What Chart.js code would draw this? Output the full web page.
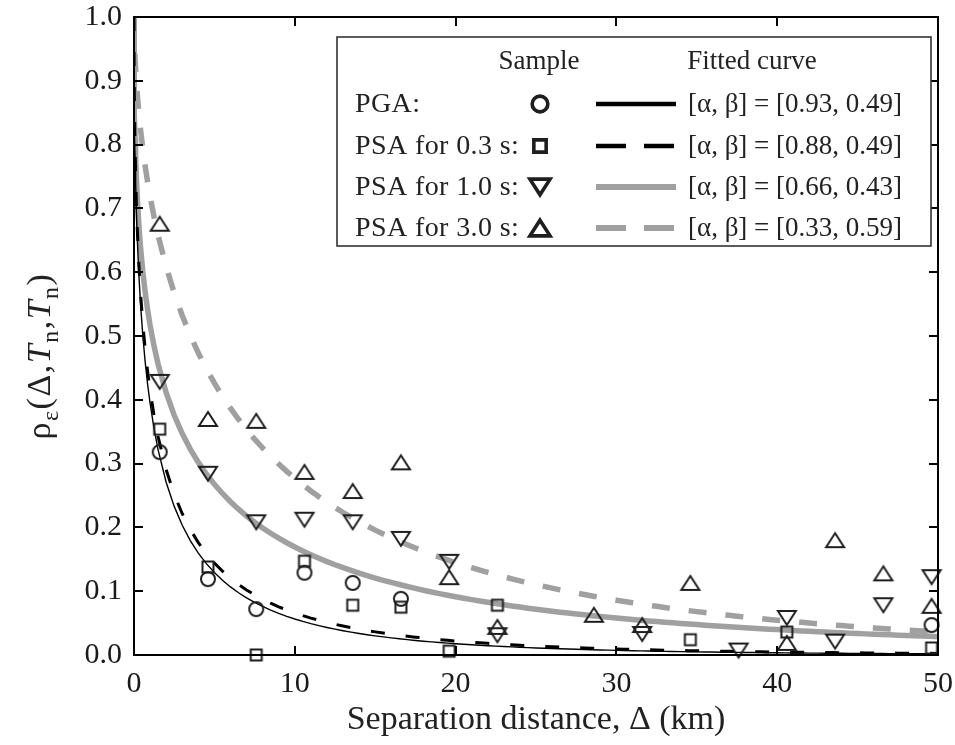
<!DOCTYPE html>
<html>
<head>
<meta charset="utf-8">
<script src="https://cdn.jsdelivr.net/npm/chart.js@4.4.1/dist/chart.umd.min.js"></script>
<style>
  html, body { margin: 0; padding: 0; background: #fff; }
  #wrap { position: relative; width: 955px; height: 745px; }
</style>
</head>
<body>
<div id="wrap"><canvas id="c" width="955" height="745"></canvas></div>
<script>
const SERIF = '"Liberation Serif", "Times New Roman", serif';

// Sample correlation estimates, by separation distance (km)
const pgaDist   = [1.6, 4.6, 7.6, 10.6, 13.6, 16.6, 49.6];
const pgaRho    = [0.318, 0.119, 0.072, 0.129, 0.113, 0.088, 0.047];

const psa03Dist = [1.6, 4.6, 7.6, 10.6, 13.6, 16.6, 19.6, 22.6, 34.6, 40.6, 49.6];
const psa03Rho  = [0.354, 0.138, 0.0, 0.147, 0.078, 0.075, 0.006, 0.078, 0.024, 0.036, 0.011];

const psa10Dist = [1.6, 4.6, 7.6, 10.6, 13.6, 16.6, 19.6, 22.6, 31.6, 37.6, 40.6, 43.6, 46.6, 49.6];
const psa10Rho  = [0.428, 0.284, 0.208, 0.212, 0.208, 0.182, 0.146, 0.031, 0.033, 0.007, 0.058, 0.021, 0.078, 0.122];

const psa30Dist = [1.6, 4.6, 7.6, 10.6, 13.6, 16.6, 19.6, 22.6, 28.6, 31.6, 34.6, 40.6, 43.6, 46.6, 49.6];
const psa30Rho  = [0.676, 0.370, 0.367, 0.287, 0.257, 0.302, 0.122, 0.044, 0.063, 0.047, 0.113, 0.019, 0.180, 0.128, 0.077];

// Fitted model rho(d) = exp(-alpha * d^beta)
const seriesLabels = ['PGA:', 'PSA for 0.3 s:', 'PSA for 1.0 s:', 'PSA for 3.0 s:'];
const fitAlpha = [0.93, 0.88, 0.66, 0.33];
const fitBeta  = [0.49, 0.49, 0.43, 0.59];

// Axis ranges and tick steps
const xRange = [0, 50], xStep = 10;
const yRange = [0, 1], yStep = 0.1;

// Evaluation grid for the fitted curves (dense near zero where they are steep)
const curveGrid = [0, 0.002, 0.005, 0.01, 0.02, 0.04, 0.07, 0.1, 0.15, 0.2, 0.3, 0.4, 0.55, 0.7, 0.85, 1, 1.25];
for (let d = 1.5; d <= 50.0001; d += 0.5) curveGrid.push(+d.toFixed(2));

function fittedCurve(i) {
  return curveGrid.map(d => ({ x: d, y: Math.exp(-fitAlpha[i] * Math.pow(d, fitBeta[i])) }));
}
function points(xs, ys) { return xs.map((x, i) => ({ x, y: ys[i] })); }

// Hollow marker glyphs
const MARK = '#1e1e1e';
function drawMarker(g, kind, cx, cy, k, lw) {
  g.save();
  g.lineWidth = lw; g.strokeStyle = MARK; g.lineJoin = 'miter';
  g.beginPath();
  if (kind === 'circle') {
    g.arc(cx, cy, 7 * k, 0, Math.PI * 2);
  } else if (kind === 'square') {
    g.rect(cx - 5.5 * k, cy - 5.5 * k, 11 * k, 11 * k);
  } else if (kind === 'up') {
    g.moveTo(cx, cy - 7 * k); g.lineTo(cx + 9 * k, cy + 7 * k); g.lineTo(cx - 9 * k, cy + 7 * k); g.closePath();
  } else {
    g.moveTo(cx, cy + 7 * k); g.lineTo(cx + 9 * k, cy - 7 * k); g.lineTo(cx - 9 * k, cy - 7 * k); g.closePath();
  }
  g.stroke();
  g.restore();
}
function markerCanvas(kind) {
  const cv = document.createElement('canvas');
  cv.width = 30; cv.height = 30;
  drawMarker(cv.getContext('2d'), kind, 15, 15, 1, 2);
  return cv;
}
const markerKinds = ['circle', 'square', 'down', 'up'];

// Curve styles
const GRAY = '#a0a0a0';
const curveStyle = [
  { color: '#000', width: 1.4, dash: [] },
  { color: '#000', width: 3, dash: [14, 21] },
  { color: GRAY, width: 5.5, dash: [] },
  { color: GRAY, width: 5.5, dash: [18, 19] }
];

const sampleSets = [[pgaDist, pgaRho], [psa03Dist, psa03Rho], [psa10Dist, psa10Rho], [psa30Dist, psa30Rho]];

const datasets = [];
sampleSets.forEach(([xs, ys], i) => {
  datasets.push({
    type: 'scatter',
    label: seriesLabels[i] + ' sample',
    data: points(xs, ys),
    pointStyle: markerCanvas(markerKinds[i]),
    pointRadius: 8,
    showLine: false,
    clip: false
  });
});
fitAlpha.forEach((a, i) => {
  datasets.push({
    type: 'line',
    label: seriesLabels[i] + ' fit',
    data: fittedCurve(i),
    borderColor: curveStyle[i].color,
    borderWidth: curveStyle[i].width,
    borderDash: curveStyle[i].dash,
    pointRadius: 0,
    tension: 0,
    fill: false
  });
});

// Frame, inward ticks, y-axis title and the two-column key
const decorPlugin = {
  id: 'decor',
  afterDraw(chart) {
    const { ctx, chartArea: a, scales: { x, y } } = chart;
    ctx.save();

    // frame + inward ticks
    ctx.strokeStyle = '#000';
    ctx.lineWidth = 2;
    ctx.strokeRect(a.left, a.top, a.right - a.left, a.bottom - a.top);
    const TL = 9;
    ctx.beginPath();
    x.ticks.forEach(t => {
      const px = Math.round(x.getPixelForValue(t.value));
      ctx.moveTo(px, a.bottom); ctx.lineTo(px, a.bottom - TL);
      ctx.moveTo(px, a.top); ctx.lineTo(px, a.top + TL);
    });
    y.ticks.forEach(t => {
      const py = Math.round(y.getPixelForValue(t.value));
      ctx.moveTo(a.left, py); ctx.lineTo(a.left + TL, py);
      ctx.moveTo(a.right, py); ctx.lineTo(a.right - TL, py);
    });
    ctx.stroke();

    // y-axis title: rho_eps(Delta, T_n, T_n)
    const main = `34px ${SERIF}`, ital = `italic 34px ${SERIF}`, sub = `24px ${SERIF}`;
    const parts = [
      ['ρ', main, 0], ['ε', sub, 8], ['(Δ,', main, 0], ['T', ital, 0], ['n', sub, 8],
      [',', main, 0], ['T', ital, 0], ['n', sub, 8], [')', main, 0]
    ];
    ctx.letterSpacing = '1.5px';
    let total = 0;
    parts.forEach(p => { ctx.font = p[1]; total += ctx.measureText(p[0]).width; });
    ctx.translate(40, 356);
    ctx.rotate(-Math.PI / 2);
    ctx.fillStyle = '#222';
    ctx.textBaseline = 'alphabetic';
    let cx = -total / 2;
    parts.forEach(p => {
      ctx.font = p[1];
      ctx.fillText(p[0], cx, 10 + p[2]);
      cx += ctx.measureText(p[0]).width;
    });
    ctx.setTransform(1, 0, 0, 1, 0, 0);
    ctx.letterSpacing = '0px';

    // key box
    const box = { l: 337, t: 37, r: 931, b: 246 };
    ctx.fillStyle = '#fff';
    ctx.fillRect(box.l, box.t, box.r - box.l, box.b - box.t);
    ctx.strokeStyle = '#333';
    ctx.lineWidth = 1.6;
    ctx.strokeRect(box.l, box.t, box.r - box.l, box.b - box.t);

    ctx.fillStyle = '#222';
    ctx.font = `27px ${SERIF}`;
    ctx.textBaseline = 'middle';
    ctx.textAlign = 'center';
    ctx.fillText('Sample', 539, 62);
    ctx.fillText('Fitted curve', 752, 62);

    const rowY = [104, 146, 187, 228];
    rowY.forEach((ry, i) => {
      ctx.textAlign = 'left';
      ctx.fillStyle = '#222';
      ctx.font = `28px ${SERIF}`;
      ctx.letterSpacing = '0.4px';
      ctx.fillText(seriesLabels[i], 355, ry + 1);
      ctx.letterSpacing = '0px';
      drawMarker(ctx, markerKinds[i], 540, ry, 1.12, 3.6);
      // line sample
      ctx.save();
      ctx.strokeStyle = curveStyle[i].color;
      ctx.lineWidth = i < 2 ? 4.5 : 6;
      ctx.setLineDash(i === 1 || i === 3 ? [30, 18] : []);
      ctx.beginPath();
      ctx.moveTo(596, ry); ctx.lineTo(676, ry);
      ctx.stroke();
      ctx.restore();
      ctx.font = `27px ${SERIF}`;
      ctx.fillText(`[α, β] = [${fitAlpha[i].toFixed(2)}, ${fitBeta[i].toFixed(2)}]`, 688, ry + 1);
    });

    ctx.restore();
  }
};

const tickFont = { family: SERIF, size: 30, lineHeight: 1.2 };

new Chart(document.getElementById('c'), {
  data: { datasets },
  options: {
    responsive: false,
    animation: false,
    devicePixelRatio: 1,
    layout: { padding: { top: 17, right: 17, left: 0, bottom: 0 } },
    plugins: { legend: { display: false }, tooltip: { enabled: false } },
    scales: {
      x: {
        type: 'linear',
        min: xRange[0], max: xRange[1],
        grid: { display: false, drawTicks: false },
        border: { display: false },
        ticks: { stepSize: xStep, font: tickFont, color: '#1a1a1a', padding: 11, maxRotation: 0 },
        title: { display: true, text: 'Separation distance, Δ (km)', font: { family: SERIF, size: 34, lineHeight: 1.2 }, color: '#222', padding: { top: 0, bottom: 5 } },
        afterFit(s) { s.height = 90; s.paddingLeft = 0; s.paddingRight = 0; }
      },
      y: {
        type: 'linear',
        min: yRange[0], max: yRange[1],
        grid: { display: false, drawTicks: false },
        border: { display: false },
        ticks: { stepSize: yStep, font: tickFont, color: '#1a1a1a', padding: 12, callback: v => v.toFixed(1) },
        afterFit(s) { s.width = 134; s.paddingTop = 0; s.paddingBottom = 0; }
      }
    }
  },
  plugins: [decorPlugin]
});
</script>
</body>
</html>
